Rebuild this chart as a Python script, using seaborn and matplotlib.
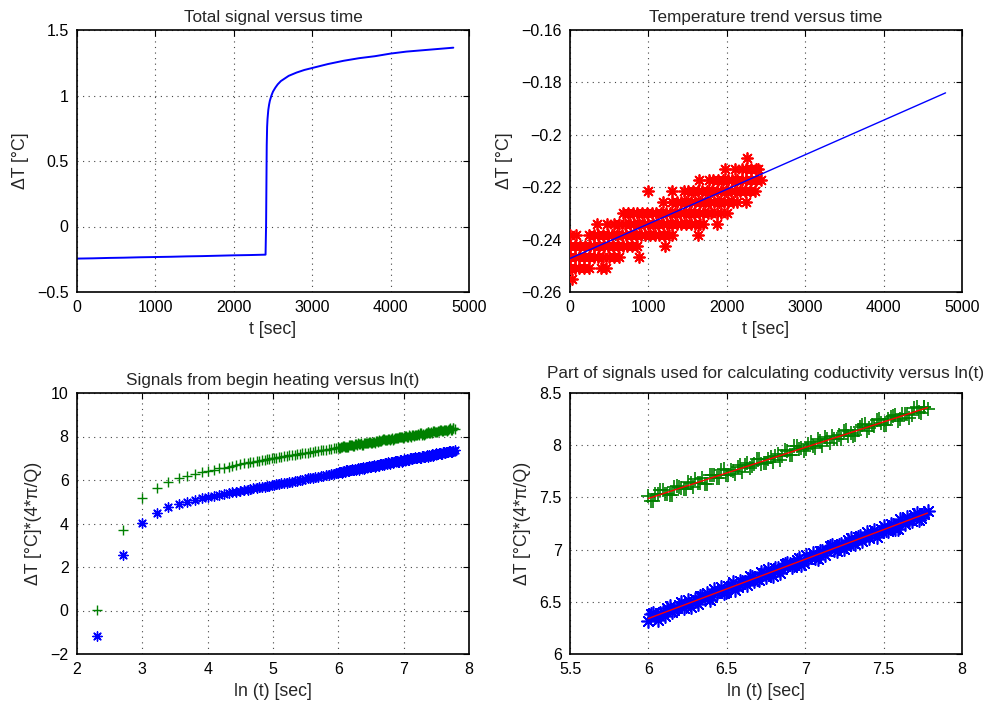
import numpy as np
import pandas as pd
import matplotlib
matplotlib.use("Agg")
import matplotlib.pyplot as plt
from matplotlib.ticker import FuncFormatter
import seaborn as sns

# ---- panel 1: total signal versus time --------------------------------------
TOTAL_T = [0, 200, 400, 600, 800, 1000, 1200, 1400, 1600, 1800, 2000, 2200, 2405,
           2412, 2420, 2425, 2430, 2440, 2450, 2460, 2480, 2500, 2530, 2560, 2600,
           2650, 2700, 2800, 2900, 3000, 3200, 3400, 3600, 3800, 4000, 4200, 4400,
           4600, 4800]
TOTAL_DT = [-0.245, -0.243, -0.240, -0.238, -0.235, -0.233, -0.231, -0.228, -0.226,
            -0.223, -0.220, -0.218, -0.215, 0.02, 0.62, 0.76, 0.82, 0.89, 0.93, 0.96,
            1.00, 1.03, 1.06, 1.085, 1.11, 1.13, 1.15, 1.175, 1.195, 1.21, 1.24, 1.265,
            1.285, 1.30, 1.32, 1.335, 1.345, 1.355, 1.365]

# ---- panel 2: temperature trend (quantised readings before heating) ----------
STAR_LEVELS = [-0.2549, -0.2507, -0.2465, -0.2423, -0.2381, -0.2339, -0.2297,
               -0.2255, -0.2213, -0.2171, -0.2129, -0.2087]
STAR_TIMES = [
    [30],
    [0, 60, 120, 180, 240, 400, 460],
    [0, 60, 120, 180, 240, 300, 360, 420, 500, 560, 620, 880],
    [0, 70, 130, 190, 250, 310, 370, 430, 490, 550, 610, 670, 730, 790, 850, 1210],
    [0, 80, 240, 300, 360, 420, 480, 540, 600, 660, 720, 780, 840, 900, 960, 1020,
     1080, 1140, 1200, 1260, 1300, 1630],
    [350, 470, 560, 620, 700, 760, 820, 880, 940, 1000, 1060, 1120, 1180, 1240, 1300,
     1360, 1420, 1480, 1540, 1600, 1660, 1700, 1870],
    [680, 740, 800, 860, 920, 980, 1040, 1100, 1160, 1220, 1280, 1340, 1400, 1460,
     1520, 1580, 1640, 1700, 1760, 1800, 1870, 1930, 2000],
    [1190, 1300, 1360, 1420, 1480, 1540, 1600, 1660, 1720, 1780, 1840, 1900, 1960,
     2020, 2080, 2130, 2240],
    [1000, 1300, 1450, 1510, 1570, 1630, 1690, 1750, 1810, 1870, 1930, 1990, 2050,
     2110, 2170, 2230, 2290, 2360],
    [1640, 1770, 1830, 1890, 1950, 2010, 2070, 2130, 2190, 2250, 2310, 2370, 2430],
    [1980, 2100, 2190, 2250, 2310, 2370, 2400],
    [2255],
]
TREND_T = [0, 4790]
TREND_DT = [-0.2472, -0.1840]

# ---- panels 3/4: signals versus ln(t) ---------------------------------------
LN_T = [2.30, 2.71, 3.00, 3.22, 3.40, 3.56, 3.69, 3.81, 3.91, 4.01,
        4.09, 4.17, 4.25, 4.32, 4.38, 4.44,
        4.50, 4.55, 4.61, 4.65, 4.70, 4.75, 4.79, 4.83, 4.87, 4.91, 4.94, 4.98,
        5.01, 5.05,
        5.09, 5.13, 5.17, 5.21, 5.25, 5.29, 5.33, 5.37, 5.41, 5.45, 5.49, 5.53,
        5.57, 5.61, 5.65, 5.69, 5.73, 5.77, 5.81, 5.85, 5.89, 5.93, 5.97,
        6.00, 6.03, 6.06, 6.09, 6.12, 6.15, 6.18, 6.21, 6.24, 6.27,
        6.30, 6.33, 6.36, 6.39, 6.42, 6.45, 6.48, 6.51, 6.54, 6.57,
        6.60, 6.63, 6.66, 6.69, 6.72, 6.75, 6.78, 6.81, 6.84, 6.87,
        6.90, 6.93, 6.96, 6.99, 7.02, 7.05, 7.08, 7.11, 7.14, 7.17,
        7.20, 7.23, 7.26, 7.29, 7.32, 7.35, 7.38, 7.41, 7.44, 7.47,
        7.50, 7.53, 7.56, 7.59, 7.62, 7.65, 7.68, 7.71, 7.74, 7.76, 7.78]
SIG_GREEN = [0.03, 3.72, 5.18, 5.65, 5.92, 6.07, 6.17, 6.28, 6.35, 6.43,
             6.48, 6.53, 6.57, 6.62, 6.66, 6.70,
             6.74, 6.76, 6.79, 6.82, 6.84, 6.87, 6.89, 6.91, 6.93, 6.95, 6.97, 6.99,
             7.00, 7.02,
             7.05, 7.06, 7.09, 7.10, 7.13, 7.14, 7.16, 7.18, 7.20, 7.22, 7.24, 7.26,
             7.28, 7.30, 7.32, 7.34, 7.36, 7.38, 7.40, 7.42, 7.44, 7.46, 7.47,
             7.51, 7.47, 7.53, 7.57, 7.53, 7.52, 7.61, 7.59, 7.58, 7.64,
             7.68, 7.64, 7.63, 7.71, 7.71, 7.69, 7.77, 7.71, 7.75, 7.79,
             7.74, 7.83, 7.80, 7.87, 7.82, 7.83, 7.89, 7.90, 7.86, 7.95,
             7.91, 7.99, 7.96, 7.94, 8.01, 7.99, 8.06, 7.99, 8.06, 8.09,
             8.06, 8.06, 8.15, 8.12, 8.10, 8.17, 8.20, 8.16, 8.18, 8.25,
             8.19, 8.25, 8.28, 8.23, 8.30, 8.30, 8.29, 8.37, 8.31, 8.37, 8.35]
SIG_BLUE = [-1.15, 2.55, 4.02, 4.50, 4.75, 4.91, 5.00, 5.10, 5.16, 5.23,
            5.27, 5.32, 5.36, 5.40, 5.43, 5.46,
            5.50, 5.52, 5.56, 5.58, 5.61, 5.63, 5.66, 5.68, 5.70, 5.72, 5.74, 5.76,
            5.78, 5.80,
            5.82, 5.84, 5.87, 5.88, 5.91, 5.93, 5.95, 5.97, 6.00, 6.02, 6.04, 6.07,
            6.09, 6.11, 6.13, 6.16, 6.18, 6.20, 6.23, 6.25, 6.27, 6.29, 6.32,
            6.32, 6.39, 6.33, 6.40, 6.44, 6.40, 6.44, 6.50, 6.46, 6.45,
            6.53, 6.56, 6.53, 6.52, 6.62, 6.60, 6.58, 6.65, 6.69, 6.64,
            6.69, 6.66, 6.74, 6.72, 6.79, 6.74, 6.78, 6.82, 6.78, 6.86,
            6.86, 6.85, 6.92, 6.87, 6.91, 6.97, 6.91, 6.99, 6.99, 7.04,
            6.99, 7.05, 7.03, 7.11, 7.05, 7.13, 7.12, 7.11, 7.19, 7.16,
            7.23, 7.18, 7.24, 7.20, 7.27, 7.31, 7.27, 7.35, 7.30, 7.34, 7.37]

# readings in between, where the late samples crowd together
LN_T_MID = [6.015, 6.045, 6.075, 6.105, 6.135, 6.165, 6.195, 6.225, 6.255, 6.285,
            6.315, 6.345, 6.375, 6.405, 6.435, 6.465, 6.495, 6.525, 6.555, 6.585,
            6.615, 6.645, 6.675, 6.705, 6.735, 6.765, 6.795, 6.825, 6.855, 6.885,
            6.915, 6.945, 6.975, 7.005, 7.035, 7.065, 7.095, 7.125, 7.155, 7.185,
            7.215, 7.245, 7.275, 7.305, 7.335, 7.365, 7.395, 7.425, 7.455, 7.485,
            7.515, 7.545, 7.575, 7.605, 7.635, 7.665, 7.695, 7.725, 7.755]
GREEN_MID = [7.47, 7.53, 7.57, 7.53, 7.52, 7.60, 7.60, 7.58, 7.65, 7.60,
             7.64, 7.69, 7.63, 7.71, 7.69, 7.76, 7.71, 7.76, 7.72, 7.81,
             7.81, 7.78, 7.82, 7.87, 7.83, 7.87, 7.84, 7.92, 7.90, 7.94,
             7.91, 7.99, 7.97, 7.96, 8.03, 7.97, 8.04, 8.08, 8.02, 8.06,
             8.10, 8.14, 8.09, 8.09, 8.15, 8.19, 8.14, 8.19, 8.24, 8.21,
             8.19, 8.27, 8.29, 8.25, 8.30, 8.26, 8.36, 8.32, 8.37]
BLUE_MID = [6.38, 6.35, 6.39, 6.36, 6.46, 6.42, 6.47, 6.44, 6.52, 6.50,
            6.48, 6.56, 6.58, 6.55, 6.58, 6.64, 6.59, 6.65, 6.61, 6.70,
            6.69, 6.75, 6.70, 6.71, 6.78, 6.81, 6.75, 6.82, 6.81, 6.87,
            6.83, 6.90, 6.85, 6.95, 6.93, 6.92, 6.99, 6.95, 7.03, 7.00,
            7.04, 7.01, 7.09, 7.06, 7.12, 7.08, 7.17, 7.16, 7.12, 7.20,
            7.19, 7.25, 7.20, 7.29, 7.25, 7.28, 7.33, 7.28, 7.35]

FIT_LN_T = [6.0, 7.78]
FIT_GREEN = [7.49, 8.36]
FIT_BLUE = [6.34, 7.35]

BLUE, GREEN, RED = "#0000ff", "#008000", "#ff0000"
STAR = (8, 2, 0)  # asterisk marker, MATLAB '*'

sns.set_theme(style="white")
plt.rcParams["font.family"] = ["Liberation Sans", "DejaVu Sans"]
plt.rcParams["axes.unicode_minus"] = True

FS = 11.5


def fmt(v, _pos):
    return f"{v:g}".replace("-", "\u2212")


def style(ax, xlim, ylim, xticks, yticks, title, xlabel, ylabel, title_pad=6):
    ax.set_xlim(*xlim)
    ax.set_ylim(*ylim)
    ax.set_xticks(xticks)
    ax.set_yticks(yticks)
    ax.xaxis.set_major_formatter(FuncFormatter(fmt))
    ax.yaxis.set_major_formatter(FuncFormatter(fmt))
    ax.grid(True, linestyle=(0, (1, 4)), color="#444444", linewidth=0.8)
    ax.set_axisbelow(True)
    ax.tick_params(direction="in", top=True, right=True, length=4, width=0.8,
                   labelsize=FS, pad=6, colors="black")
    for s in ax.spines.values():
        s.set_linewidth(1.2)
        s.set_color("black")
    ax.set_title(title, fontsize=12.3, pad=title_pad)
    ax.set_xlabel(xlabel, fontsize=12.8, labelpad=4)
    ax.set_ylabel(ylabel, fontsize=12.8, labelpad=6)


fig = plt.figure(figsize=(9.83, 7.09), dpi=100)
W, H = 983, 709


def axes_px(left, top, right, bottom):
    return fig.add_axes([left / W, 1 - bottom / H, (right - left) / W, (bottom - top) / H])


ax1 = axes_px(77, 30, 469, 292)
ax2 = axes_px(570, 30, 962, 292)
ax3 = axes_px(77, 393, 469, 654)
ax4 = axes_px(570, 393, 962, 654)

# panel 1
sns.lineplot(x=TOTAL_T, y=TOTAL_DT, color=BLUE, linewidth=1.4, estimator=None,
             sort=False, ax=ax1)
style(ax1, (0, 5000), (-0.5, 1.5), range(0, 5001, 1000), [-0.5, 0, 0.5, 1, 1.5],
      "Total signal versus time", "t [sec]", "\u0394T [\u00b0C]")

# panel 2
stars = pd.DataFrame([(t, lvl) for lvl, ts in zip(STAR_LEVELS, STAR_TIMES) for t in ts],
                     columns=["t", "dT"])
sns.scatterplot(data=stars, x="t", y="dT", marker=STAR, s=62, color=RED,
                linewidth=1.3, ax=ax2, zorder=3)
sns.lineplot(x=TREND_T, y=TREND_DT, color=BLUE, linewidth=1.0, estimator=None,
             sort=False, ax=ax2, zorder=4)
style(ax2, (0, 5000), (-0.26, -0.16), range(0, 5001, 1000),
      [-0.26, -0.24, -0.22, -0.2, -0.18, -0.16],
      "Temperature trend versus time", "t [sec]", "\u0394T [\u00b0C]")

# panels 3 and 4
sig = pd.concat([pd.DataFrame({"ln_t": LN_T, "green": SIG_GREEN, "blue": SIG_BLUE}),
                 pd.DataFrame({"ln_t": LN_T_MID, "green": GREEN_MID, "blue": BLUE_MID})],
                ignore_index=True).sort_values("ln_t")
ylab = "\u0394T [\u00b0C]*(4*\u03c0/Q)"

sns.scatterplot(data=sig, x="ln_t", y="green", marker="+", s=60, color=GREEN,
                linewidth=1.0, ax=ax3, zorder=3)
sns.scatterplot(data=sig, x="ln_t", y="blue", marker=STAR, s=45, color=BLUE,
                linewidth=1.0, ax=ax3, zorder=3)
style(ax3, (2, 8), (-2, 10), range(2, 9), range(-2, 11, 2),
      "Signals from begin heating versus ln(t)", "ln (t) [sec]", ylab)

part = sig[sig["ln_t"] >= 6.0]
sns.scatterplot(data=part, x="ln_t", y="green", marker="+", s=100, color=GREEN,
                linewidth=1.2, ax=ax4, zorder=3)
sns.scatterplot(data=part, x="ln_t", y="blue", marker=STAR, s=90, color=BLUE,
                linewidth=1.2, ax=ax4, zorder=3)
sns.lineplot(x=FIT_LN_T, y=FIT_GREEN, color=RED, linewidth=1.0, estimator=None,
             sort=False, ax=ax4, zorder=4)
sns.lineplot(x=FIT_LN_T, y=FIT_BLUE, color=RED, linewidth=1.0, estimator=None,
             sort=False, ax=ax4, zorder=4)
style(ax4, (5.5, 8), (6, 8.5), [5.5, 6, 6.5, 7, 7.5, 8], [6, 6.5, 7, 7.5, 8, 8.5],
      "Part of signals used for calculating coductivity versus ln(t)", "ln (t) [sec]", ylab,
      title_pad=11)

fig.savefig("out.png", dpi=100)
